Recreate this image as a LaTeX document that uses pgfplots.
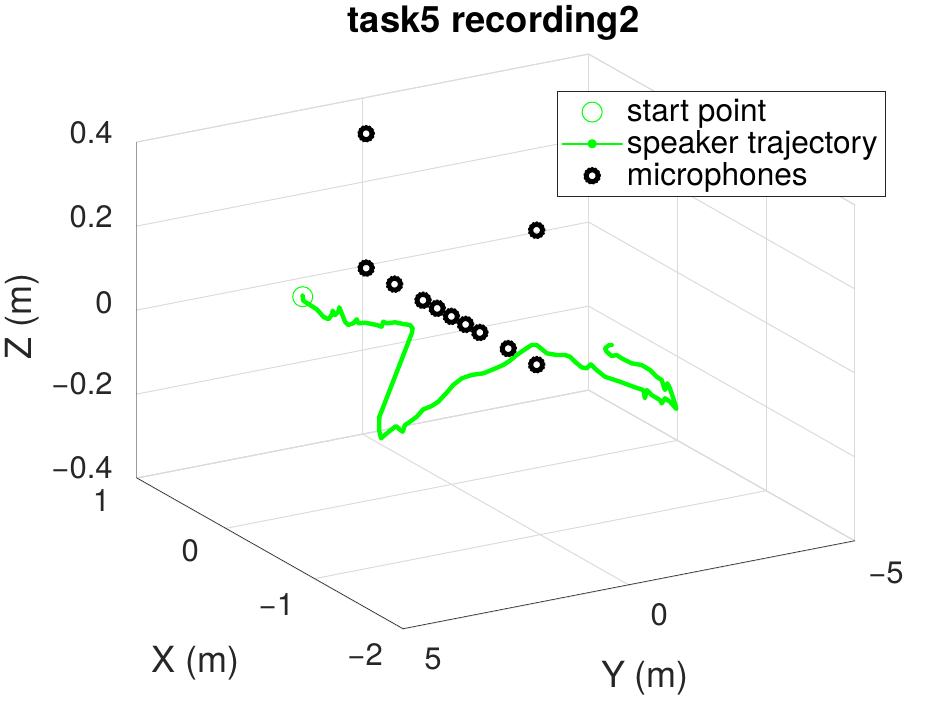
\documentclass[border=0pt]{standalone}
\usepackage{fontspec}
\setmainfont{TeX Gyre Heros}
\usepackage{pgfplots}
\pgfplotsset{compat=1.18}
\definecolor{mgreen}{rgb}{0,1,0}
\definecolor{gridgray}{rgb}{0.86,0.86,0.86}
\definecolor{axgray}{rgb}{0.15,0.15,0.15}

\begin{document}
\begin{tikzpicture}
\begin{axis}[
    x={(-44.4pt,25.15pt)}, y={(-22.6pt,-4.4pt)}, z={(0pt,210pt)},
    xmin=-2, xmax=1, ymin=-5, ymax=5, zmin=-0.4, zmax=0.4,
    xtick={-2,-1,0,1}, xticklabels={−2,−1,0,1},
    ytick={-5,0,5}, yticklabels={−5,0,5},
    ztick={-0.4,-0.2,0,0.2,0.4}, zticklabels={−0.4,−0.2,0,0.2,0.4},
    tick pos=right, ticklabel pos=left,
    grid=major, major grid style={gridgray, line width=0.5pt},
    axis line style={gridgray, line width=0.5pt},
    tick style={draw=none}, tick align=outside, major tick length=4pt,
    ticklabel style={font=\fontsize{15.5}{18}\selectfont, text=axgray},
    xticklabel style={xshift=-6pt, yshift=-1pt},
    yticklabel style={xshift=6pt, yshift=-3.5pt},
    zticklabel style={xshift=-4.5pt, yshift=3pt},
    xlabel={X (m)}, ylabel={Y (m)}, zlabel={Z (m)},
    label style={font=\fontsize{18}{21}\selectfont, text=axgray},
    xlabel style={at={(axis description cs:0.0814,-0.059)}, anchor=center},
    ylabel style={at={(axis description cs:0.7077,-0.0852)}, anchor=center},
    zlabel style={at={(axis description cs:-0.1594,0.5443)}, anchor=center},
    title={task5 recording2},
    title style={at={(axis description cs:0.4969,1.033)}, anchor=center,
        font=\fontsize{18.2}{21}\selectfont\bfseries},
    legend style={at={(axis description cs:0.585,0.936)}, anchor=north west,
        draw=axgray, line width=0.5pt, font=\fontsize{15.8}{18}\selectfont,
        row sep=-1pt, inner sep=2pt, cells={anchor=west}},
]
\coordinate (O) at (axis cs:0,0,0);

\addplot3[only marks, mark=o, mark size=5pt, mgreen, mark options={line width=0.5pt},
    legend image code/.code={\draw[mgreen, line width=0.5pt] (15pt,0pt) circle (5pt);}]
    coordinates {(0.844,1.631,-0.02)};
\addlegendentry{start point}

\addplot3[mgreen, line width=2.2pt, line join=round, line cap=round, no marks,
    legend image code/.code={
        \draw[mgreen, line width=0.8pt] (0pt,0pt) -- (30pt,0pt);
        \fill[mgreen] (15pt,0pt) circle (1.2pt);}]
    table {
x y z
0.862 1.599 -0.02
0.783 1.737 -0.02
0.700 1.752 -0.02
0.617 1.766 -0.02
0.489 1.873 -0.02
0.436 1.866 -0.02
0.490 1.685 -0.02
0.551 1.544 -0.02
0.480 1.631 -0.02
0.520 1.481 -0.02
0.582 1.336 -0.02
0.486 1.472 -0.02
0.352 1.661 -0.02
0.294 1.703 -0.02
0.305 1.571 -0.02
0.354 1.399 -0.02
0.290 1.488 -0.02
0.280 1.361 -0.02
0.241 1.289 -0.02
0.212 1.236 -0.02
0.173 1.202 -0.02
0.242 1.031 -0.02
0.209 1.021 -0.02
0.199 0.855 -0.02
0.150 0.769 -0.02
0.116 0.687 -0.02
0.060 0.739 -0.02
-0.012 0.900 -0.02
-1.016 3.502 -0.02
-1.153 3.859 -0.02
-1.349 4.250 -0.02
-1.477 4.458 -0.02
-1.420 4.219 -0.02
-1.375 4.021 -0.02
-1.338 3.854 -0.02
-1.397 3.896 -0.02
-1.442 3.910 -0.02
-1.349 3.677 -0.02
-1.315 3.498 -0.02
-1.260 3.243 -0.02
-1.170 2.919 -0.02
-1.145 2.685 -0.02
-1.100 2.451 -0.02
-0.991 2.051 -0.02
-0.896 1.719 -0.02
-0.822 1.385 -0.02
-0.801 1.125 -0.02
-0.810 0.885 -0.02
-0.779 0.604 -0.02
-0.744 0.315 -0.02
-0.700 0.079 -0.02
-0.635 -0.197 -0.02
-0.575 -0.499 -0.02
-0.530 -0.735 -0.02
-0.545 -0.817 -0.02
-0.618 -0.783 -0.02
-0.696 -0.741 -0.02
-0.750 -0.855 -0.02
-0.774 -0.992 -0.02
-0.814 -1.025 -0.02
-0.902 -0.961 -0.02
-1.004 -0.910 -0.02
-1.034 -0.962 -0.02
-0.986 -1.145 -0.02
-1.087 -1.078 -0.02
-1.211 -1.019 -0.02
-1.328 -1.121 -0.02
-1.440 -1.195 -0.02
-1.518 -1.264 -0.02
-1.645 -1.050 -0.02
-1.528 -1.320 -0.02
-1.616 -1.256 -0.02
-1.714 -1.248 -0.02
-1.768 -1.180 -0.02
-1.703 -1.379 -0.02
-1.768 -1.363 -0.02
-1.894 -1.257 -0.02
-1.806 -1.398 -0.02
-1.569 -1.752 -0.02
-1.488 -1.853 -0.02
-1.580 -1.621 -0.02
-1.423 -1.857 -0.02
-1.359 -1.870 -0.02
-1.241 -1.955 -0.02
-1.143 -1.963 -0.02
-1.089 -1.849 -0.02
-0.986 -1.829 -0.02
-0.923 -1.843 -0.02
-0.924 -1.732 -0.02
-0.845 -1.774 -0.02
-0.790 -1.845 -0.02
-0.754 -2.012 -0.02
-0.761 -2.052 -0.02
};
\addlegendentry{speaker trajectory}

\addplot3[only marks, mark=o, mark size=2.9pt, black, mark options={line width=2.4pt},
    legend image code/.code={
        \draw[black, line width=2.4pt] (15pt,0pt) circle (2.9pt);
        \draw[black, line width=1.2pt, dash pattern=on 0.9pt off 0.9pt] (15pt,0pt) circle (3.8pt);}]
    table {
x y z
0.96 0 0.32
0.96 0 0
0.64 0 0
0.32 0 0
0.16 0 0
0 0 0
-0.16 0 0
-0.32 0 0
-0.64 0 0
-0.96 0 0
-0.96 0 0.32
};
\addlegendentry{microphones}

\addplot3[only marks, forget plot, mark=o, mark size=3.8pt, black,
    mark options={line width=1.2pt, dash pattern=on 0.9pt off 0.9pt}]
    table {
x y z
0.96 0 0.32
0.96 0 0
0.64 0 0
0.32 0 0
0.16 0 0
0 0 0
-0.16 0 0
-0.32 0 0
-0.64 0 0
-0.96 0 0
-0.96 0 0.32
};

% axis lines and short ticks as in the MATLAB box
\draw[axgray, line width=0.6pt] (axis cs:1,5,-0.4) -- (axis cs:-2,5,-0.4) -- (axis cs:-2,-5,-0.4);
\draw[axgray, line width=0.6pt] (axis cs:1,5,-0.4) -- (axis cs:1,5,0.4);
\pgfplotsinvokeforeach{-2,-1,0,1}{
    \draw[axgray, line width=0.5pt] (axis cs:#1,5,-0.4) -- (axis cs:#1,5.25,-0.4);}
\pgfplotsinvokeforeach{-5,0,5}{
    \draw[axgray, line width=0.5pt] (axis cs:-2,#1,-0.4) -- (axis cs:-2.1,#1,-0.4);}
\pgfplotsinvokeforeach{-0.4,-0.2,0,0.2,0.4}{
    \draw[axgray, line width=0.5pt] (axis cs:1,5,#1) -- (axis cs:1.1,5,#1);}
\end{axis}
\pgfresetboundingbox
\path[use as bounding box] ([shift={(-225.7pt,-195.8pt)}]O) rectangle ([shift={(246.3pt,158.2pt)}]O);
\end{tikzpicture}
\end{document}
